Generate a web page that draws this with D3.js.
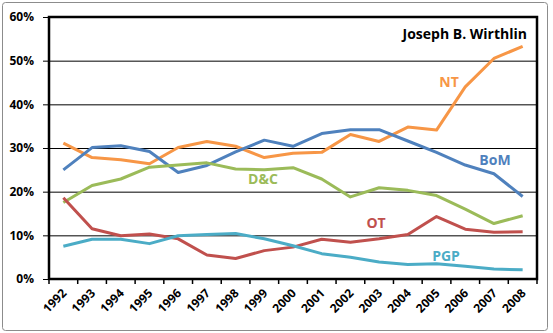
<!DOCTYPE html>
<meta charset="utf-8">
<style>
body { margin: 0; background: #fff; }
text { font-family: "Open Sans", "DejaVu Sans", sans-serif; font-weight: bold; }
.grid line { stroke: #000; stroke-width: 1px; }
.series { fill: none; stroke-width: 3px; stroke-linejoin: round; }
</style>
<body>
<script src="https://d3js.org/d3.v7.min.js"></script>
<script>

// share of talk content per year
var years = ["1992","1993","1994","1995","1996","1997","1998","1999","2000",
             "2001","2002","2003","2004","2005","2006","2007","2008"];

var nt  = [31.1, 27.8, 27.3, 26.4, 30.1, 31.5, 30.4, 27.8, 28.8, 29.0, 33.1, 31.5, 34.8, 34.1, 44.0, 50.5, 53.3];
var bom = [25.0, 30.1, 30.5, 29.2, 24.4, 26.0, 29.1, 31.8, 30.4, 33.3, 34.2, 34.2, 31.6, 29.0, 26.1, 24.1, 18.9];
var dc  = [17.5, 21.4, 22.9, 25.6, 26.1, 26.6, 25.2, 25.0, 25.5, 22.9, 18.8, 20.9, 20.3, 19.1, 16.0, 12.7, 14.5];
var ot  = [18.6, 11.5,  9.9, 10.3,  9.2,  5.5,  4.7,  6.5,  7.3,  9.1,  8.4,  9.2, 10.2, 14.3, 11.4, 10.7, 10.8];
var pgp = [ 7.5,  9.1,  9.1,  8.1,  9.9, 10.2, 10.4,  9.2,  7.6,  5.8,  5.0,  3.9,  3.3,  3.5,  2.9,  2.3,  2.1];

var yTicks = [0, 10, 20, 30, 40, 50, 60];

var series = [
  {name: "NT",  values: nt,  color: "#F79646", lx: 449, ly: 82},
  {name: "BoM", values: bom, color: "#4F81BD", lx: 495, ly: 160},
  {name: "D&C", values: dc,  color: "#9BBB59", lx: 263, ly: 179},
  {name: "OT",  values: ot,  color: "#C0504D", lx: 376, ly: 223},
  {name: "PGP", values: pgp, color: "#4BACC6", lx: 446, ly: 256}
];

var W = 553, H = 333;
var margin = {top: 17, right: 16, bottom: 54, left: 49};
var width = W - margin.left - margin.right,
    height = H - margin.top - margin.bottom;

var svg = d3.select("body").append("svg")
    .attr("width", W)
    .attr("height", H);

// outer chart frame
svg.append("rect")
    .attr("x", 2.5).attr("y", 2.5)
    .attr("width", 545).attr("height", 328)
    .attr("rx", 3)
    .attr("fill", "#fff")
    .attr("stroke", "#8c8c8c")
    .attr("stroke-width", 1);

var g = svg.append("g")
    .attr("transform", "translate(" + margin.left + "," + margin.top + ")");

var x = d3.scaleBand().domain(years).range([0, width]);
var y = d3.scaleLinear().domain([0, 60]).range([height, 0]);

// horizontal gridlines with short ticks outside the left edge
g.append("g")
    .attr("class", "grid")
    .call(d3.axisLeft(y).tickValues(yTicks).tickSize(-width - 6).tickFormat(""))
    .attr("transform", "translate(-6,0)")
    .call(function(s) { s.select(".domain").remove(); });

// y labels
g.append("g").selectAll("text")
  .data(yTicks)
  .join("text")
    .attr("x", -15)
    .attr("y", function(d) { return y(d); })
    .attr("dy", "0.35em")
    .attr("text-anchor", "end")
    .attr("font-size", 12)
    .text(function(d) { return d + "%"; });

// x tick marks at band edges
var edges = years.map(function(d) { return x(d); }).concat([width]);
g.append("g").selectAll("line")
  .data(edges)
  .join("line")
    .attr("x1", function(d) { return d; })
    .attr("x2", function(d) { return d; })
    .attr("y1", height)
    .attr("y2", height + 5)
    .attr("stroke", "#000")
    .attr("stroke-width", 1.5);

// rotated year labels
g.append("g").selectAll("text")
  .data(years)
  .join("text")
    .attr("transform", function(d) {
      return "translate(" + (x(d) + x.bandwidth() / 2 + 1) + "," + (height + 12) + ") rotate(-45)";
    })
    .attr("text-anchor", "end")
    .attr("dy", "0.35em")
    .attr("font-size", 12)
    .text(function(d) { return d; });

// plot area border
g.append("rect")
    .attr("width", width)
    .attr("height", height)
    .attr("fill", "none")
    .attr("stroke", "#000")
    .attr("stroke-width", 2.5);

var line = d3.line()
    .x(function(d, i) { return x(years[i]) + x.bandwidth() / 2; })
    .y(function(d) { return y(d); });

g.selectAll(".series")
  .data(series)
  .join("path")
    .attr("class", "series")
    .attr("stroke", function(d) { return d.color; })
    .attr("d", function(d) { return line(d.values); });

// series names
svg.selectAll(".lbl")
  .data(series)
  .join("text")
    .attr("class", "lbl")
    .attr("x", function(d) { return d.lx; })
    .attr("y", function(d) { return d.ly; })
    .attr("dy", "0.35em")
    .attr("text-anchor", "middle")
    .attr("font-size", 14)
    .attr("fill", function(d) { return d.color; })
    .text(function(d) { return d.name; });

svg.append("text")
    .attr("x", 527)
    .attr("y", 34)
    .attr("dy", "0.35em")
    .attr("text-anchor", "end")
    .attr("font-size", 14)
    .attr("fill", "#000")
    .text("Joseph B. Wirthlin");

</script>
</body>
